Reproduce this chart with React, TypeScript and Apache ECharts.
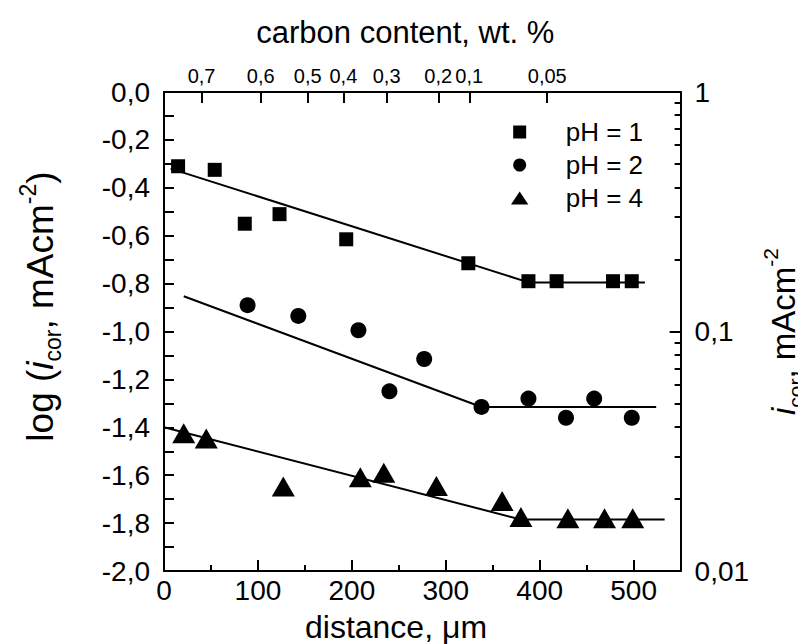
import React, { useEffect, useRef } from "react";
import * as echarts from "echarts";

// ---- data ----
const ph1X = [15, 54, 86, 123, 194, 324, 388, 418, 478, 498];
const ph1Y = [-0.31, -0.325, -0.55, -0.51, -0.615, -0.715, -0.79, -0.79, -0.79, -0.79];
const ph2X = [89, 143, 207, 240, 277, 338, 388, 428, 458, 498];
const ph2Y = [-0.89, -0.935, -0.995, -1.25, -1.115, -1.315, -1.28, -1.36, -1.28, -1.36];
const ph4X = [21, 45, 127, 209, 234, 290, 360, 380, 430, 469, 499];
const ph4Y = [-1.425, -1.447, -1.647, -1.609, -1.59, -1.645, -1.708, -1.775, -1.78, -1.78, -1.78];

const fit1X = [7, 388, 512];
const fit1Y = [-0.32, -0.795, -0.795];
const fit2X = [21, 338, 524];
const fit2Y = [-0.853, -1.315, -1.315];
const fit4X = [0, 380, 533];
const fit4Y = [-1.4, -1.785, -1.785];

const seriesNames = ["pH = 1", "pH = 2", "pH = 4"];

// top axis: carbon content ticks (positions in distance units)
const carbonPositions = [40, 103, 153, 191, 237, 292, 325, 408];
const carbonLabels = ["0,7", "0,6", "0,5", "0,4", "0,3", "0,2", "0,1", "0,05"];

// bottom minor ticks
const distanceMinorTicks = [50, 150, 250, 350, 450];

// right axis (log i_cor) tick values
const rightMajorValues = [0.01, 0.1, 1];
const rightMajorLabels = ["0,01", "0,1", "1"];
const rightMinorValues = [
  0.02, 0.03, 0.04, 0.05, 0.06, 0.07, 0.08, 0.09,
  0.2, 0.3, 0.4, 0.5, 0.6, 0.7, 0.8, 0.9,
];

const xTitle = "distance, μm";

const FONT = "'Liberation Sans', Arial, sans-serif";
const BLACK = "#000";

function zip(xs: number[], ys: number[]) {
  return xs.map((x, i) => [x, ys[i]]);
}

function richFor(size: number, small: number) {
  return {
    i: { fontStyle: "italic" as const, fontSize: size, fontFamily: FONT, color: BLACK },
    sub: { fontSize: small, lineHeight: small + 1, verticalAlign: "bottom" as const, fontFamily: FONT, color: BLACK },
    sup: { fontSize: small, lineHeight: small + 1, verticalAlign: "top" as const, fontFamily: FONT, color: BLACK },
  };
}

export default function App() {
  const ref = useRef<HTMLDivElement>(null);

  useEffect(() => {
    if (!ref.current) return;
    const chart = echarts.init(ref.current, undefined, { renderer: "svg" });

    const lineStyle = { color: BLACK, width: 2 };
    const axisLine = { show: true, onZero: false, lineStyle };
    const markerStyle = { color: BLACK, opacity: 1 };

    const rightMajorLog = rightMajorValues.map((v) => Math.log10(v));

    const option: any = {
      animation: false,
      backgroundColor: "#fff",
      textStyle: { fontFamily: FONT, color: BLACK },
      grid: { left: 143, right: 116, top: 84, bottom: 81, containLabel: false },
      graphic: [
        {
          type: "text",
          x: 388,
          y: 603,
          silent: true,
          style: {
            text: xTitle,
            fontSize: 32,
            fontFamily: FONT,
            fill: BLACK,
            align: "center",
            verticalAlign: "top",
          },
        },
      ],
      legend: {
        orient: "vertical",
        left: 503,
        top: 111,
        padding: 0,
        itemGap: 7,
        itemWidth: 82,
        itemHeight: 13,
        symbolKeepAspect: true,
        itemStyle: { opacity: 1 },
        textStyle: { fontSize: 26, lineHeight: 26, color: BLACK, fontFamily: FONT },
        data: [
          { name: seriesNames[0], icon: "path://M0,0L10,0L10,10L0,10Z" },
          { name: seriesNames[1], icon: "circle" },
          { name: seriesNames[2], icon: "path://M0,15L10,0L20,15Z" },
        ],
      },
      xAxis: [
        {
          type: "value",
          position: "bottom",
          min: 0,
          max: 550,
          interval: 100,
          axisLine,
          axisTick: { show: true, inside: true, length: 11, lineStyle },
          axisLabel: { fontSize: 28, color: BLACK, margin: 5, showMaxLabel: false, fontFamily: FONT },
          splitLine: { show: false },
        },
        {
          type: "value",
          position: "bottom",
          min: 0,
          max: 550,
          axisLine: { show: false, onZero: false },
          axisTick: { show: true, inside: true, length: 6, lineStyle, customValues: distanceMinorTicks },
          axisLabel: { show: false },
          splitLine: { show: false },
        },
        {
          type: "value",
          position: "top",
          min: 0,
          max: 550,
          axisLine,
          axisTick: { show: true, inside: true, length: 11, lineStyle, customValues: carbonPositions },
          axisLabel: {
            customValues: carbonPositions,
            formatter: (v: number) => {
              const i = carbonPositions.indexOf(v);
              return i >= 0 ? carbonLabels[i] : "";
            },
            fontSize: 20,
            color: BLACK,
            margin: 6,
            fontFamily: FONT,
          },
          splitLine: { show: false },
          name: "carbon content, wt. %",
          nameLocation: "middle",
          nameGap: 44,
          nameTextStyle: { fontSize: 31, color: BLACK, fontFamily: FONT, padding: [0, 34, 0, 0] },
        },
      ],
      yAxis: [
        {
          type: "value",
          position: "left",
          min: -2,
          max: 0,
          interval: 0.2,
          axisLine,
          axisTick: { show: true, inside: true, length: 10, lineStyle },
          minorTick: { show: true, splitNumber: 2, length: 10, lineStyle },
          axisLabel: {
            fontSize: 28,
            color: BLACK,
            margin: 14,
            fontFamily: FONT,
            formatter: (v: number) => (Math.abs(v) < 1e-9 ? "0,0" : v.toFixed(1).replace(".", ",")),
          },
          splitLine: { show: false },
          minorSplitLine: { show: false },
          name: "log ({i|i}{sub|cor}, mAcm{sup|-2})",
          nameLocation: "middle",
          nameRotate: 90,
          nameGap: 100,
          nameTextStyle: {
            fontSize: 37,
            lineHeight: 48,
            color: BLACK,
            fontFamily: FONT,
            padding: [0, 0, 0, 50],
            rich: richFor(37, 23),
          },
        },
        {
          type: "value",
          position: "right",
          min: -2,
          max: 0,
          interval: 1,
          axisLine,
          axisTick: { show: true, inside: true, length: 11, lineStyle },
          axisLabel: {
            fontSize: 28,
            color: BLACK,
            margin: 14,
            fontFamily: FONT,
            formatter: (v: number) => {
              const i = rightMajorLog.findIndex((t) => Math.abs(t - v) < 1e-9);
              return i >= 0 ? rightMajorLabels[i] : "";
            },
          },
          splitLine: { show: false },
          name: "{i|i}{sub|cor}, mAcm{sup|-2}",
          nameLocation: "middle",
          nameRotate: 90,
          nameGap: 77,
          nameTextStyle: { fontSize: 33, lineHeight: 46, color: BLACK, fontFamily: FONT, rich: richFor(33, 21) },
        },
        {
          type: "value",
          position: "right",
          min: -2,
          max: 0,
          axisLine: { show: false, onZero: false },
          axisTick: {
            show: true,
            inside: true,
            length: 6,
            lineStyle,
            customValues: rightMinorValues.map((v) => Math.log10(v)),
          },
          axisLabel: { show: false },
          splitLine: { show: false },
        },
      ],
      series: [
        { type: "line", data: zip(fit1X, fit1Y), symbol: "none", lineStyle: { color: BLACK, width: 2 }, silent: true, z: 1 },
        { type: "line", data: zip(fit2X, fit2Y), symbol: "none", lineStyle: { color: BLACK, width: 2 }, silent: true, z: 1 },
        { type: "line", data: zip(fit4X, fit4Y), symbol: "none", lineStyle: { color: BLACK, width: 2 }, silent: true, z: 1 },
        {
          name: seriesNames[0],
          type: "scatter",
          data: zip(ph1X, ph1Y),
          symbol: "rect",
          symbolSize: 14,
          itemStyle: markerStyle,
          z: 3,
        },
        {
          name: seriesNames[1],
          type: "scatter",
          data: zip(ph2X, ph2Y),
          symbol: "circle",
          symbolSize: 16,
          itemStyle: markerStyle,
          z: 3,
        },
        {
          name: seriesNames[2],
          type: "scatter",
          data: zip(ph4X, ph4Y),
          symbol: "triangle",
          symbolSize: [23, 20],
          itemStyle: markerStyle,
          z: 3,
        },
      ],
    };

    chart.setOption(option);
    return () => chart.dispose();
  }, []);

  return <div ref={ref} style={{ width: 806, height: 644 }} />;
}
